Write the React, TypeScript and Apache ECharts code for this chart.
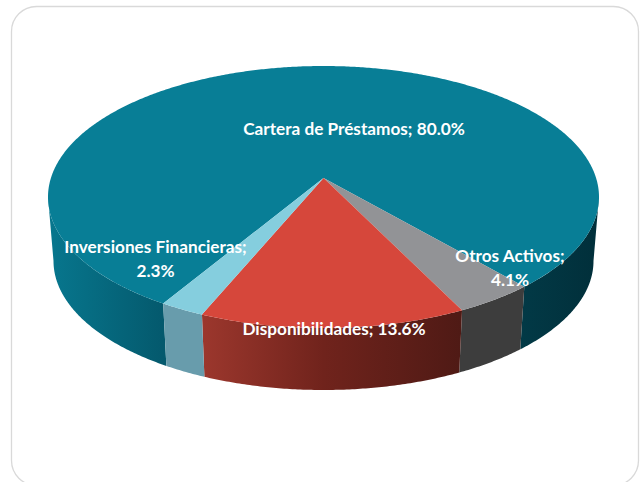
import React, { useEffect, useRef } from "react";
import * as echarts from "echarts";

const categories = ["Cartera de Préstamos", "Otros Activos", "Disponibilidades", "Inversiones Financieras"];
const values = [80.0, 4.1, 13.6, 2.3];
const firstSliceAngle = 211;

const topColors = ["#087e96", "#929396", "#d6473b", "#85cede"];
const sideStops = [
  [[0, "#07778e"], [0.21, "#04596d"], [0.85, "#023a47"], [1, "#012f3a"]],
  [[0, "#3d3d3d"], [1, "#3d3d3d"]],
  [[0.28, "#9c372d"], [0.5, "#70231c"], [0.75, "#4f1a15"]],
  [[0, "#689cac"], [1, "#689cac"]],
];
const labelSpots = [
  { x: 354, y: 128, wrap: false },
  { x: 510, y: 267, wrap: true },
  { x: 334, y: 328, wrap: false },
  { x: 155.5, y: 258, wrap: true },
];

const K = 0.145;
const CX = 323.5;
const TOP = { cy: 197, rx: 275.5, ry: 131 };
const BOTTOM = { cy: 261, rx: 270, ry: 129 };
const APEX_FRONT = [98.3, 261.7];

function project(e: typeof TOP, deg: number): number[] {
  const t = (deg * Math.PI) / 180;
  const X = Math.sin(t);
  const Y = -Math.cos(t);
  const w = 1 - K * Y;
  return [CX + (e.rx * Math.sqrt(1 - K * K) * X) / w, e.cy + (e.ry * (Y - K)) / w];
}
function projectCentre(e: typeof TOP): number[] {
  return [CX, e.cy - e.ry * K];
}
function arc(e: typeof TOP, a: number, b: number): number[][] {
  const n = Math.max(2, Math.ceil(Math.abs(b - a) / 0.5));
  const pts: number[][] = [];
  for (let i = 0; i <= n; i++) pts.push(project(e, a + ((b - a) * i) / n));
  return pts;
}

const sliceRows = (() => {
  let a = firstSliceAngle;
  return values.map((v, i) => {
    const s = a;
    a += (v / 100) * 360;
    return [s, a, v, i];
  });
})();

function frontPieces(a: number, b: number): number[][] {
  const out: number[][] = [];
  for (const shift of [0, -360]) {
    const lo = Math.max(a + shift, APEX_FRONT[0]);
    const hi = Math.min(b + shift, APEX_FRONT[1]);
    if (hi > lo) out.push([lo, hi]);
  }
  return out;
}

export default function App() {
  const ref = useRef<HTMLDivElement>(null);
  useEffect(() => {
    document.body.style.margin = "0";
    const chart = echarts.init(ref.current!, null, { renderer: "svg" });
    chart.setOption({
      animation: false,
      backgroundColor: "#ffffff",
      graphic: [
        {
          type: "rect",
          silent: true,
          z: 0,
          shape: { x: 11.5, y: 6.5, width: 627, height: 479, r: 25 },
          style: { fill: "#ffffff", stroke: "#d9d9d9", lineWidth: 1.3 },
        },
      ],
      series: [
        {
          type: "custom",
          coordinateSystem: "none",
          z: 2,
          silent: true,
          data: sliceRows,
          renderItem: (_p: any, api: any) => {
            const i = api.value(3);
            const fill = new echarts.graphic.LinearGradient(
              48, 0, 599, 0,
              sideStops[i].map(([offset, color]) => ({ offset, color })),
              true
            );
            return {
              type: "group",
              children: frontPieces(api.value(0), api.value(1)).map(([lo, hi]) => ({
                type: "polygon",
                shape: { points: [...arc(TOP, lo, hi), ...arc(BOTTOM, hi, lo)] },
                style: { fill },
              })),
            };
          },
        },
        {
          type: "custom",
          coordinateSystem: "none",
          z: 3,
          silent: true,
          data: sliceRows,
          renderItem: (_p: any, api: any) => ({
            type: "polygon",
            shape: { points: [projectCentre(TOP), ...arc(TOP, api.value(0), api.value(1))] },
            style: { fill: topColors[api.value(3)] },
          }),
        },
        {
          type: "custom",
          coordinateSystem: "none",
          z: 4,
          silent: true,
          data: sliceRows,
          renderItem: (_p: any, api: any) => {
            const i = api.value(3);
            const spot = labelSpots[i];
            const pct = `${values[i].toFixed(1)}%`;
            return {
              type: "text",
              x: spot.x,
              y: spot.y,
              style: {
                text: `${categories[i]};${spot.wrap ? "\n" : " "}${pct}`,
                fill: "#ffffff",
                font: 'bold 17.2px Lato, "Noto Sans", sans-serif',
                lineHeight: 24,
                align: "center",
                verticalAlign: "middle",
              },
            };
          },
        },
      ],
    });
    return () => chart.dispose();
  }, []);
  return <div ref={ref} style={{ position: "fixed", left: 0, top: 0, width: 640, height: 482 }} />;
}
